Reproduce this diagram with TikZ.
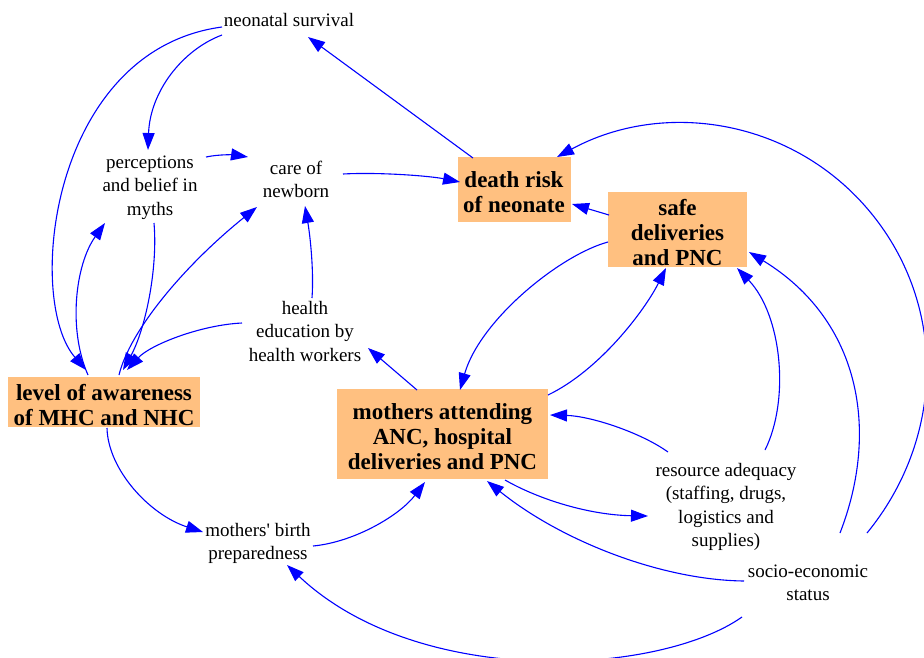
\documentclass[tikz,border=0pt]{standalone}
\usepackage{fontspec}
\setmainfont{Liberation Serif}
\usetikzlibrary{arrows.meta,calc}
\definecolor{boxfill}{RGB}{255,192,128}
\definecolor{linkblue}{RGB}{0,0,255}
% extra head room on the first line of a multi-line label
\newcommand\firstline{\rule{0pt}{0.95em}}
\begin{document}
\begin{tikzpicture}[x=1pt,y=-1pt,
  var/.style={align=center,inner sep=0pt,font=\fontsize{19}{23.5}\selectfont},
  stock/.style={fill=boxfill,align=center,inner sep=0pt,font=\fontsize{23}{25}\bfseries\selectfont},
  link/.style={draw=linkblue,line width=1.1pt,-{Triangle[length=17pt,width=12pt]}}]
\useasboundingbox (0,0) rectangle (924,657);

% variables
\node[var] (ns) at (289,20) {neonatal survival};
\node[var] (pb) at (150,185) {\firstline perceptions\\and belief in\\myths};
\node[var] (cn) at (296,177) {\firstline care of\\newborn};
\node[var] (he) at (305,329) {\firstline health\\education by\\health workers};
\node[var] (bp) at (258,541) {\firstline mothers\textquotesingle{} birth\\preparedness};
\node[var] (ra) at (726,504.5) {\firstline resource adequacy\\(staffing, drugs,\\logistics and\\supplies)};
\node[var] (se) at (808,580) {\firstline socio-economic\\status};

% key levels
\node[stock,minimum width=113pt,minimum height=65pt] (dr) at (514,189.5) {\firstline death risk\\of neonate};
\node[stock,minimum width=139pt,minimum height=75pt] (sd) at (677.5,229.5) {\firstline safe\\deliveries\\and PNC};
\node[stock,minimum width=192pt,minimum height=50pt] (aw) at (104,402) {\firstline level of awareness\\of MHC and NHC};
\node[stock,minimum width=211pt,minimum height=90pt] (ma) at (442.5,434) {\firstline mothers attending\\ANC, hospital\\deliveries and PNC};

\coordinate (arcmid) at ($(se)+(63,-367)$);

% causal links
\draw[link] ($(dr)+(-41,-31.5)$) -- ($(ns)+(19,17)$);
\draw[link] ($(ns)+(-67,15)$) .. controls +(-40,15) and +(2,-58) .. ($(pb)+(-2,-35)$);
\draw[link] ($(ns)+(-67,7)$) .. controls +(-172,23) and +(-61,-70) .. ($(aw)+(-18,-32)$);
\draw[link] ($(pb)+(56,-28)$) .. controls +(14,-3) and +(-13,-2) .. ($(cn)+(-48,-20)$);
\draw[link] ($(cn)+(47,-3)$) .. controls +(37,-2) and +(-30,-6) .. ($(dr)+(-54,-7.5)$);
\draw[link] ($(sd)+(-68.5,-14.5)$) -- ($(dr)+(58,14.5)$);
\draw[link] ($(se)+(59,-47)$) .. controls +(77,-94) and +(77,94) .. (arcmid)
  .. controls +(-77,-94) and +(107,-58) .. ($(dr)+(43,-32.5)$);
\draw[link] ($(se)+(32,-47)$) .. controls +(40,-103) and +(111,68) .. ($(sd)+(71.5,22.5)$);
\draw[link] ($(ra)+(39,-54.5)$) .. controls +(25,-50) and +(45,47) .. ($(sd)+(59.5,38.5)$);
\draw[link] ($(ma)+(105.5,-39)$) .. controls +(52,-25) and +(-21,42) .. ($(sd)+(-11.5,38.5)$);
\draw[link] ($(sd)+(-69.5,12.5)$) .. controls +(-48,13) and +(20,-70) .. ($(ma)+(17.5,-44)$);
\draw[link] ($(ma)+(-25.5,-44)$) -- ($(he)+(63,19)$);
\draw[link] ($(he)+(-63,-6)$) .. controls +(-42,2) and +(23,-25) .. ($(aw)+(23,-32)$);
\draw[link] ($(he)+(7,-31)$) .. controls +(2,-28) and +(5,29) .. ($(cn)+(9,29)$);
\draw[link] ($(pb)+(4,38)$) .. controls +(4,47) and +(22,-40) .. ($(aw)+(19,-32)$);
\draw[link] ($(aw)+(-16,-27)$) .. controls +(-20,-45) and +(-30,42) .. ($(pb)+(-45,38)$);
\draw[link] ($(aw)+(15,-27)$) .. controls +(11,-45) and +(-72,58) .. ($(cn)+(-39,30)$);
\draw[link] ($(aw)+(3,26)$) .. controls +(1,42) and +(-53,-17) .. ($(bp)+(-55,-9)$);
\draw[link] ($(bp)+(55,5)$) .. controls +(42,-4) and +(-25,33) .. ($(ma)+(-17.5,48)$);
\draw[link] ($(se)+(-66,37)$) .. controls +(-82,58) and +(133,125) .. ($(bp)+(29,24)$);
\draw[link] ($(ra)+(-58,-52.5)$) .. controls +(-28,-20) and +(40,1) .. ($(ma)+(107.5,-19)$);
\draw[link] ($(ma)+(62.5,46)$) .. controls +(35,20) and +(-58,-1) .. ($(ra)+(-78,11.5)$);
\draw[link] ($(se)+(-64,1)$) .. controls +(-84,-1) and +(73,59) .. ($(ma)+(44.5,47)$);
\end{tikzpicture}
\end{document}
